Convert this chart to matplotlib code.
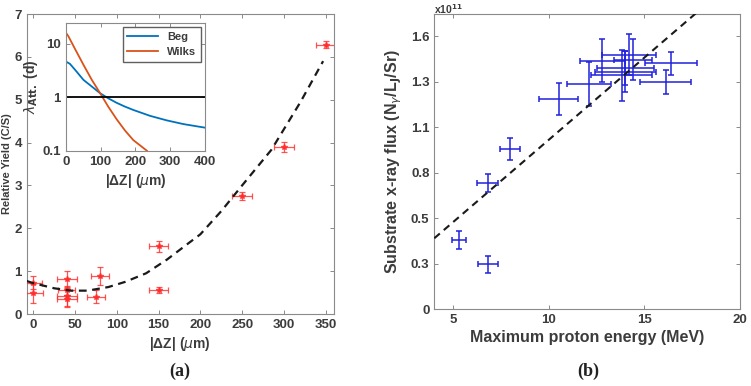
import matplotlib
matplotlib.use("Agg")
import matplotlib.pyplot as plt
import numpy as np

plt.rcParams['font.family'] = ['Liberation Sans', 'DejaVu Sans']
plt.rcParams['mathtext.fontset'] = 'dejavusans'

TXT = "#3c3c3c"
SPINE = "#8a8a8a"

# ---- panel (a): relative yield vs |dZ|
yield_dz = [0, 0, 40, 40, 40, 40, 75, 80, 150, 150, 250, 300, 350]
yield_val = [0.73, 0.48, 0.81, 0.55, 0.41, 0.36, 0.40, 0.89, 1.58, 0.57, 2.75, 3.90, 6.28]
yield_xerr = [10, 11, 12, 10, 12, 12, 11, 11, 11, 11, 12, 12, 12]
yield_yerr = [0.15, 0.23, 0.20, 0.10, 0.23, 0.20, 0.15, 0.21, 0.13, 0.07, 0.10, 0.11, 0.08]

# dashed guide curve
fit_dz = [-8, 0, 25, 45, 65, 90, 110, 135, 160, 185, 200, 225, 250, 285, 320, 347]
fit_val = [0.77, 0.72, 0.60, 0.545, 0.545, 0.63, 0.75, 0.95, 1.27, 1.64, 1.86, 2.4, 3.0, 3.83, 4.95, 5.9]

# inset: attenuation length
beg_dz = [0, 12, 27, 51, 75, 99, 122, 146, 170, 194, 242, 290, 338, 400]
beg_lam = [4.7, 4.24, 3.27, 2.12, 1.59, 1.19, 0.96, 0.79, 0.67, 0.58, 0.45, 0.37, 0.315, 0.27]
wilks_dz = [0, 8, 27, 51, 75, 99, 122, 146, 170, 194, 233]
wilks_lam = [16.5, 13.8, 8.0, 4.06, 2.12, 1.19, 0.67, 0.39, 0.24, 0.158, 0.10]

# ---- panel (b): x-ray flux vs proton energy
energy = [5.3, 6.8, 6.8, 7.96, 10.5, 12.1, 12.8, 14.2, 14.4, 14.0, 14.0, 13.8, 16.4, 16.1]
energy_err = [0.38, 0.52, 0.55, 0.54, 1.04, 1.15, 1.2, 1.4, 1.0, 1.5, 1.6, 1.6, 1.35, 1.35]
flux = [0.405, 0.263, 0.738, 0.94, 1.23, 1.32, 1.455, 1.49, 1.46, 1.415, 1.39, 1.37, 1.44, 1.33]
flux_err = [0.054, 0.052, 0.052, 0.063, 0.093, 0.13, 0.127, 0.12, 0.12, 0.10, 0.12, 0.15, 0.066, 0.071]

trend_e = [4, 18]
trend_flux = [0.416, 1.763]


def style_axes(ax, fs=9.5):
    for s in ax.spines.values():
        s.set_color(SPINE)
        s.set_linewidth(0.8)
    ax.tick_params(direction='in', top=True, right=True, length=3,
                   width=0.7, color=SPINE, labelsize=fs, labelcolor=TXT)
    for lab in ax.get_xticklabels() + ax.get_yticklabels():
        lab.set_fontweight('bold')


fig = plt.figure(figsize=(7.51, 3.86), dpi=100)

# main (a)
ax_a = fig.add_axes([0.0355, 0.1865, 0.4092, 0.7772])
ax_a.errorbar(yield_dz, yield_val, xerr=yield_xerr, yerr=yield_yerr, fmt='*',
              color='#ff2a2a', ms=4, capsize=2.5, elinewidth=0.9, capthick=0.9,
              alpha=0.8, zorder=3)
ax_a.plot(fit_dz, fit_val, color='#1a1a1a', ls=(0, (3.5, 2.5)), lw=1.6, zorder=4)
ax_a.set_xlim(-8, 360)
ax_a.set_ylim(0, 7)
ax_a.set_xticks(np.arange(0, 351, 50))
ax_a.set_yticks(range(0, 8))
style_axes(ax_a)
ax_a.set_xlabel(r'|ΔZ| ($\mu$m)', fontsize=10, fontweight='bold', color=TXT, labelpad=3)
fig.text(0.002, 0.575, 'Relative Yield (C/S)', rotation=90, ha='left', va='center',
         fontsize=8, fontweight='bold', color=TXT)

# inset
ax_in = fig.add_axes([0.0875, 0.6096, 0.1855, 0.3316])
ax_in.plot(beg_dz, beg_lam, color='#0072BD', lw=1.3, label='Beg')
ax_in.plot(wilks_dz, wilks_lam, color='#D95319', lw=1.3, label='Wilks')
ax_in.axhline(1, color='black', lw=1.3)
ax_in.set_yscale('log')
ax_in.set_xlim(0, 400)
ax_in.set_ylim(0.1, 25)
ax_in.set_xticks([0, 100, 200, 300, 400])
ax_in.set_yticks([0.1, 1, 10])
ax_in.set_yticklabels(['0.1', '1', '10'])
ax_in.minorticks_off()
style_axes(ax_in)
ax_in.set_xlabel(r'|ΔZ| ($\mu$m)', fontsize=10, fontweight='bold', color=TXT, labelpad=3)
ax_in.set_ylabel(r'$\lambda_{\mathbf{Att.}}$ (d)', fontsize=10, fontweight='bold',
                 color=TXT, labelpad=2)
leg = ax_in.legend(loc='upper right', handlelength=2.8, borderaxespad=0.4,
                   fancybox=False, framealpha=1, edgecolor='#606060',
                   prop={'weight': 'bold', 'size': 8})
for t in leg.get_texts():
    t.set_color(TXT)

# (b)
ax_b = fig.add_axes([0.5783, 0.1987, 0.4071, 0.765])
ax_b.errorbar(energy, flux, xerr=energy_err, yerr=flux_err, fmt='none',
              ecolor='#2222dd', capsize=2.5, elinewidth=1.1, capthick=1.1, zorder=3)
ax_b.plot(trend_e, trend_flux, color='#1a1a1a', ls=(0, (3.5, 2.5)), lw=1.5, zorder=4)
ax_b.set_xlim(4, 20)
ax_b.set_ylim(0, 1.729)
ax_b.set_xticks([5, 10, 15, 20])
yt = np.arange(7) * 4 / 15
ax_b.set_yticks(yt)
ax_b.set_yticklabels(['0' if v == 0 else f'{v:.1f}' for v in yt])
style_axes(ax_b)
ax_b.set_xlabel('Maximum proton energy (MeV)', fontsize=11.5, fontweight='bold',
                color=TXT, labelpad=3)
ax_b.set_ylabel(r'Substrate x-ray flux (N$_{\gamma}$/L$_{\mathbf{J}}$/Sr)', fontsize=11.5,
                fontweight='bold', color=TXT, labelpad=5)
fig.text(0.5783, 1 - 13.5 / 386, r'x10$^{\mathbf{11}}$', ha='left', va='baseline',
         fontsize=7.5, fontweight='bold', color=TXT)

# captions
fig.text(180 / 751, 1 - 371 / 386, '(a)', ha='center', va='center', fontsize=13,
         fontweight='bold', family='Liberation Serif', color='#222222')
fig.text(588 / 751, 1 - 371 / 386, '(b)', ha='center', va='center', fontsize=13,
         fontweight='bold', family='Liberation Serif', color='#222222')

fig.savefig('out.png', dpi=100)
